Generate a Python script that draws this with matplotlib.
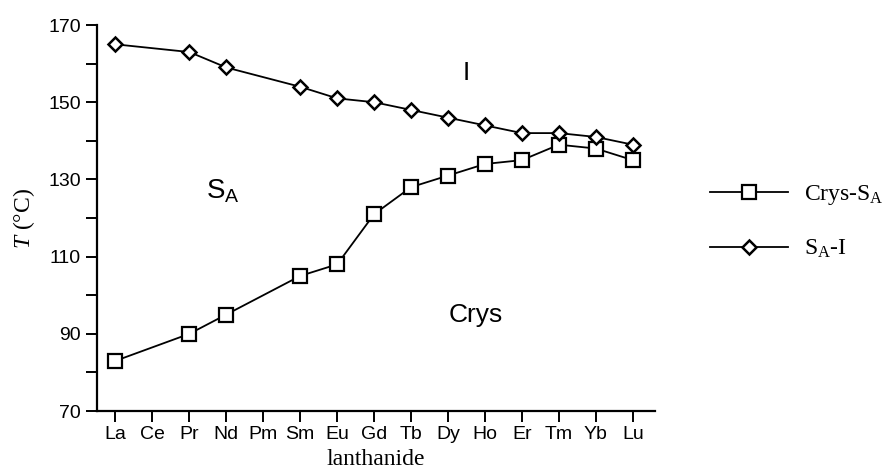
import numpy as np
import matplotlib
matplotlib.use("Agg")
import matplotlib.pyplot as plt

plt.rcParams['font.family'] = ['Liberation Sans', 'DejaVu Sans']
plt.rcParams['mathtext.fontset'] = 'custom'
plt.rcParams['mathtext.rm'] = 'Liberation Serif'
plt.rcParams['mathtext.it'] = 'Liberation Serif:italic'
plt.rcParams['mathtext.sf'] = 'Liberation Sans'

# lanthanide series (Ce and Pm have no data)
elements = ['La', 'Ce', 'Pr', 'Nd', 'Pm', 'Sm', 'Eu', 'Gd', 'Tb', 'Dy', 'Ho', 'Er', 'Tm', 'Yb', 'Lu']
measured = ['La', 'Pr', 'Nd', 'Sm', 'Eu', 'Gd', 'Tb', 'Dy', 'Ho', 'Er', 'Tm', 'Yb', 'Lu']
crys_sa = [83, 90, 95, 105, 108, 121, 128, 131, 134, 135, 139, 138, 135]
sa_i = [165, 163, 159, 154, 151, 150, 148, 146, 144, 142, 142, 141, 139]

xpos = [elements.index(e) for e in measured]

fig = plt.figure(figsize=(8.85, 4.74), dpi=100)
ax = fig.add_axes([0.1096, 0.1329, 0.6305, 0.8143])

ax.plot(xpos, crys_sa, '-', color='black', lw=1.3, marker='s', ms=9.5,
        mfc='white', mec='black', mew=1.6, label='Crys-S$_{\\mathrm{A}}$')
ax.plot(xpos, sa_i, '-', color='black', lw=1.3, marker='D', ms=7,
        mfc='white', mec='black', mew=1.8, label='S$_{\\mathrm{A}}$-I')

ax.set_xlim(-0.5, 14.6)
ax.set_ylim(70, 170)
ax.set_xticks(range(len(elements)))
ax.set_xticklabels(elements)
ax.set_yticks(np.arange(70, 171, 20))
ax.set_yticks(np.arange(80, 170, 20), minor=True)

for s in ['top', 'right']:
    ax.spines[s].set_visible(False)
for s in ['left', 'bottom']:
    ax.spines[s].set_linewidth(1.6)
ax.tick_params(which='both', direction='out', length=8, width=1.4, labelsize=14)
ax.tick_params(axis='x', pad=3)

ax.set_xlabel('lanthanide', family='Liberation Serif', fontsize=17, labelpad=4)
ax.set_ylabel('$T$ (°C)', family='Liberation Serif', fontsize=17, labelpad=8)

ax.text(9.5, 157.5, 'I', fontsize=19, ha='center', va='center')
ax.text(2.9, 127, r'$\mathsf{S_A}$', fontsize=20, ha='center', va='center')
ax.text(9.76, 95, 'Crys', fontsize=19, ha='center', va='center')

ax.legend(loc='center left', bbox_to_anchor=(1.061, 0.49), frameon=False,
          handlelength=3.3, labelspacing=1.3, handletextpad=0.65,
          prop={'family': 'Liberation Serif', 'size': 17})

fig.savefig('out.png', dpi=100)
